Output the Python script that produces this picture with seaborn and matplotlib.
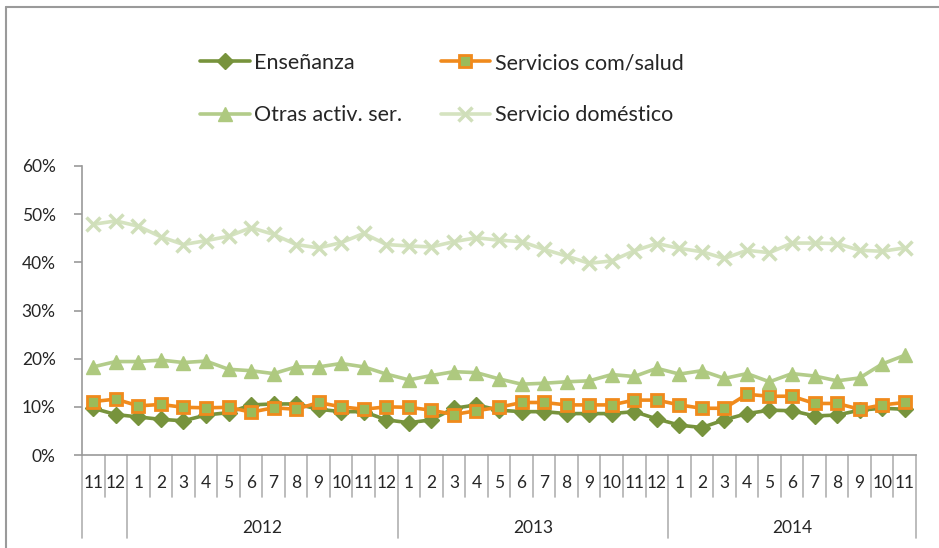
import pandas as pd
import numpy as np
import matplotlib
matplotlib.use("Agg")
import matplotlib.pyplot as plt
import matplotlib.transforms as mtransforms
from matplotlib.lines import Line2D
import seaborn as sns

# etiquetas del eje x (mes / año)
meses = ["11", "12"] + [str(m) for m in range(1, 13)] * 2 + [str(m) for m in range(1, 12)]
anios = ["2012", "2013", "2014"]
inicio_anios = [2, 14, 26]

# valores en %
ensenanza = [9.7, 8.4, 7.9, 7.4, 7.1, 8.3, 8.8, 10.4, 10.6, 10.6, 9.5, 9.0,
             9.0, 7.3, 6.7, 7.3, 9.7, 10.4, 9.3, 9.0, 9.0, 8.6, 8.6, 8.6,
             9.0, 7.5, 6.2, 5.7, 7.3, 8.6, 9.3, 9.2, 8.1, 8.3, 9.3, 9.7, 9.5]
servicios = [11.1, 11.6, 10.2, 10.5, 9.9, 9.8, 9.9, 8.9, 9.8, 9.5, 10.9, 10.0,
             9.5, 10.0, 9.9, 9.3, 8.4, 9.2, 9.9, 10.9, 10.9, 10.4, 10.4, 10.4,
             11.4, 11.4, 10.4, 9.7, 9.7, 12.6, 12.2, 12.2, 10.7, 10.7, 9.5, 10.4, 10.9]
otras = [18.3, 19.4, 19.4, 19.7, 19.2, 19.5, 17.8, 17.5, 16.9, 18.3, 18.3, 19.0,
         18.3, 16.8, 15.6, 16.5, 17.3, 17.1, 15.8, 14.7, 14.9, 15.2, 15.4, 16.7,
         16.3, 18.0, 16.8, 17.5, 15.9, 16.9, 15.2, 16.9, 16.4, 15.4, 16.0, 18.9, 20.7]
domestico = [47.9, 48.6, 47.5, 45.3, 43.7, 44.5, 45.4, 47.2, 45.8, 43.7, 43.0, 44.1,
             46.0, 43.7, 43.4, 43.2, 44.3, 45.1, 44.6, 44.3, 42.7, 41.3, 39.8, 40.3,
             42.4, 43.9, 42.9, 42.2, 40.8, 42.5, 42.0, 44.0, 44.0, 43.9, 42.5, 42.3, 43.0]

series = {
    "Enseñanza": ensenanza,
    "Servicios com/salud": servicios,
    "Otras activ. ser.": otras,
    "Servicio doméstico": domestico,
}

estilos = {
    "Enseñanza": dict(color="#77933C", marker="D", markersize=8,
                      markerfacecolor="#77933C", markeredgecolor="#77933C", markeredgewidth=1),
    "Servicios com/salud": dict(color="#F08A1C", marker="s", markersize=8,
                                markerfacecolor="#9BBB59", markeredgecolor="#F08A1C", markeredgewidth=2),
    "Otras activ. ser.": dict(color="#B3CC8A", marker="^", markersize=10,
                              markerfacecolor="#AEC97F", markeredgecolor="#AEC97F", markeredgewidth=1),
    "Servicio doméstico": dict(color="#D5E3C0", marker="x", markersize=10,
                               markerfacecolor="#D0DFBA", markeredgecolor="#D0DFBA", markeredgewidth=2.5),
}

sns.set_style("white")
plt.rcParams["font.family"] = ["Lato", "DejaVu Sans"]

W, H = 939, 548
fig = plt.figure(figsize=(W / 100, H / 100), dpi=100)
x0, x1, y0, y1 = 82, 916, 166, 455
ax = fig.add_axes([x0 / W, 1 - y1 / H, (x1 - x0) / W, (y1 - y0) / H])

n = len(meses)
for nombre, valores in series.items():
    df = pd.DataFrame({"x": np.arange(n), "y": np.array(valores) / 100})
    est = estilos[nombre]
    sns.lineplot(data=df, x="x", y="y", ax=ax, color=est["color"], linewidth=2.6,
                 marker=est["marker"], markersize=est["markersize"],
                 markerfacecolor=est["markerfacecolor"], markeredgecolor=est["markeredgecolor"],
                 markeredgewidth=est["markeredgewidth"], legend=False)

ax.set_xlim(-0.5, n - 0.5)
ax.set_ylim(0, 0.6)
ax.set_yticks(np.arange(0, 0.61, 0.1))
ax.set_yticklabels([f"{int(round(v * 100))}%" for v in np.arange(0, 0.61, 0.1)], fontsize=12.5)
ax.set_xticks([])
ax.set_xlabel("")
ax.set_ylabel("")
for s in ["top", "right"]:
    ax.spines[s].set_visible(False)
gris = "#9A9A9A"
ax.spines["left"].set_color(gris)
ax.spines["bottom"].set_color(gris)
ax.spines["left"].set_linewidth(1.2)
ax.spines["bottom"].set_linewidth(1.2)
ax.tick_params(axis="y", left=True, length=6, color=gris, width=1.2, pad=13)

# eje de categorías de dos niveles
trans = mtransforms.blended_transform_factory(ax.transData, ax.transAxes)
alto = y1 - y0
mes_lin = -42 / alto
anio_lin = -83 / alto
for k in range(n + 1):
    xk = k - 0.5
    largo = anio_lin if (k in [0, 2, 14, 26, n]) else mes_lin
    ax.add_line(Line2D([xk, xk], [0, largo], transform=trans, color="#B0B0B0",
                       linewidth=1.2, clip_on=False))
for k, m in enumerate(meses):
    ax.text(k, -28 / alto, m, transform=trans, ha="center", va="center", fontsize=12.5)
fin_anios = inicio_anios[1:] + [n]
for a, i0, i1 in zip(anios, inicio_anios, fin_anios):
    ax.text((i0 + i1 - 1) / 2, -73 / alto, a, transform=trans, ha="center", va="center", fontsize=12.5)

# leyenda
orden = ["Enseñanza", "Otras activ. ser.", "Servicios com/salud", "Servicio doméstico"]
handles = []
for nombre in orden:
    est = estilos[nombre]
    handles.append(Line2D([], [], color=est["color"], linewidth=2.6, marker=est["marker"],
                          markersize=est["markersize"], markerfacecolor=est["markerfacecolor"],
                          markeredgecolor=est["markeredgecolor"], markeredgewidth=est["markeredgewidth"]))
fig.legend(handles, orden, ncol=2, loc="upper left", bbox_to_anchor=(200 / W, 1 - 53 / H),
           frameon=False, fontsize=15.5, handlelength=2.3, handletextpad=0.2,
           columnspacing=1.8, labelspacing=1.5, borderpad=0, borderaxespad=0)

# marco del gráfico
fig.add_artist(Line2D([6 / W, 6 / W], [0, 1 - 7 / H], transform=fig.transFigure, color="#9A9A9A", linewidth=1.5))
fig.add_artist(Line2D([6 / W, 1], [1 - 7 / H, 1 - 7 / H], transform=fig.transFigure, color="#9A9A9A", linewidth=1.5))

fig.savefig("out.png", dpi=100)
